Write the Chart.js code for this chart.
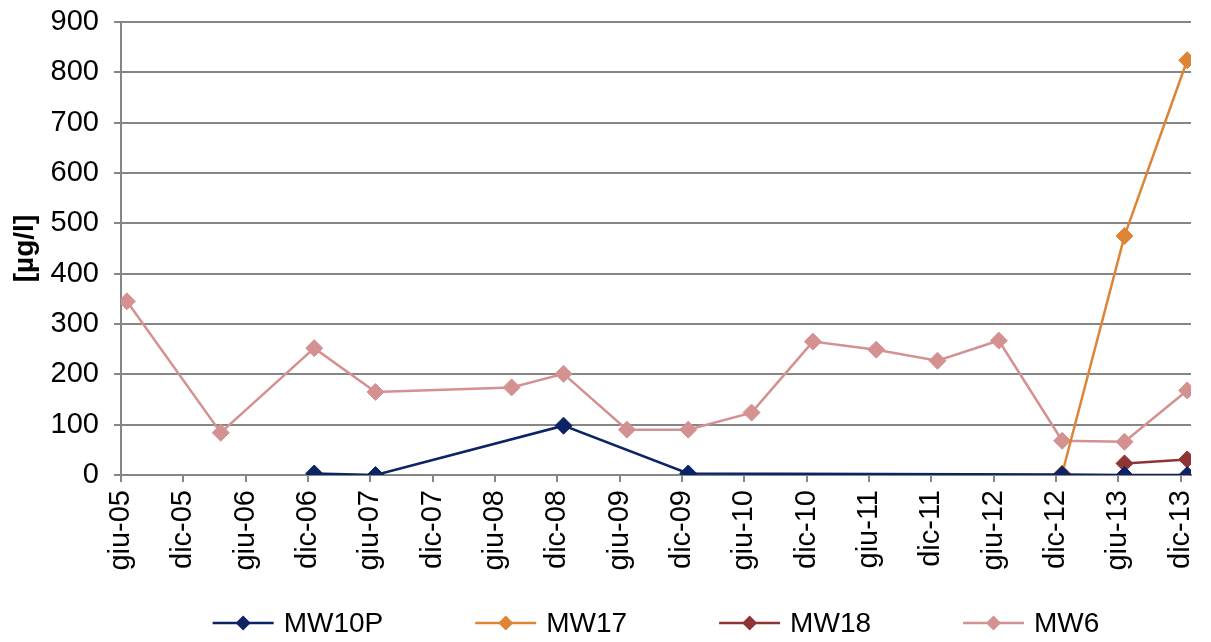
<!DOCTYPE html>
<html>
<head>
<meta charset="utf-8">
<script src="https://cdn.jsdelivr.net/npm/chart.js@4/dist/chart.umd.min.js"></script>
<style>
  html, body { margin: 0; padding: 0; background: #fff; }
  #wrap { width: 1211px; height: 642px; }
</style>
</head>
<body>
<div id="wrap"><canvas id="grafico"></canvas></div>
<script>
// tick labels of the date axis (every 6 months)
const tickLabels = ['giu-05','dic-05','giu-06','dic-06','giu-07','dic-07','giu-08','dic-08','giu-09',
                    'dic-09','giu-10','dic-10','giu-11','dic-11','giu-12','dic-12','giu-13','dic-13'];
const tickDates = ['2005-06-01','2005-12-01','2006-06-01','2006-12-01','2007-06-01','2007-12-01',
                   '2008-06-01','2008-12-01','2009-06-01','2009-12-01','2010-06-01','2010-12-01',
                   '2011-06-01','2011-12-01','2012-06-01','2012-12-01','2013-06-01','2013-12-01'];

// sampling dates and values [µg/l]
const mw10pDates = ['2006-12-19','2007-06-16','2008-12-19','2009-12-19','2012-12-19','2013-06-19','2013-12-20'];
const mw10p = [3, 0, 98, 3, 1, 0, 0];

const mw17Dates = ['2012-12-19','2013-06-19','2013-12-20'];
const mw17 = [3, 475, 824];

const mw18Dates = ['2013-06-19','2013-12-20'];
const mw18 = [23, 31];

const mw6Dates = ['2005-06-18','2006-03-19','2006-12-19','2007-06-16','2008-07-19','2008-12-19',
                  '2009-06-22','2009-12-19','2010-06-22','2010-12-19','2011-06-22','2011-12-19',
                  '2012-06-16','2012-12-19','2013-06-19','2013-12-20'];
const mw6 = [345, 84, 252, 165, 174, 201, 90, 90, 124, 265, 249, 227, 267, 68, 66, 168];

// months since 1 June 2005
const toMonths = d => {
    const [y, m, g] = d.split('-').map(Number);
    return (y - 2005) * 12 + (m - 6) + (g - 1) / 30;
};
const punti = (dates, vals) => dates.map((d, i) => ({ x: toMonths(d), y: vals[i] }));
const tickVals = tickDates.map(toMonths);

const FONT = '"Liberation Sans", Arial, sans-serif';
const grigio = '#868686';

const serie = (label, dates, vals, col) => ({
    label: label,
    data: punti(dates, vals),
    borderColor: col,
    backgroundColor: col,
    borderWidth: 2.5,
    pointStyle: 'rectRot',
    pointRadius: 8.5,
    pointHoverRadius: 8.5,
    pointBorderWidth: 1,
    tension: 0
});

// legend drawn as line + diamond, like the original
const legenda = {
    id: 'legenda',
    afterDraw(chart) {
        const ctx = chart.ctx;
        ctx.save();
        ctx.font = '28px ' + FONT;
        const lineW = 61, gapTxt = 10, gap = 92;
        const items = chart.data.datasets.map(ds => ({ ds, w: lineW + gapTxt + ctx.measureText(ds.label).width }));
        const total = items.reduce((a, b) => a + b.w, 0) + gap * (items.length - 1);
        let x = (chart.chartArea.left + chart.chartArea.right) / 2 - total / 2;
        const y = 623;
        items.forEach(it => {
            const c = it.ds.borderColor;
            ctx.strokeStyle = c;
            ctx.lineWidth = 2.5;
            ctx.beginPath();
            ctx.moveTo(x, y);
            ctx.lineTo(x + lineW, y);
            ctx.stroke();
            ctx.fillStyle = c;
            const cx = x + lineW / 2, r = 7.5;
            ctx.beginPath();
            ctx.moveTo(cx, y - r);
            ctx.lineTo(cx + r, y);
            ctx.lineTo(cx, y + r);
            ctx.lineTo(cx - r, y);
            ctx.closePath();
            ctx.fill();
            ctx.fillStyle = '#000';
            ctx.textBaseline = 'middle';
            ctx.textAlign = 'left';
            ctx.fillText(it.ds.label, x + lineW + gapTxt, y + 1);
            x += it.w + gap;
        });
        ctx.restore();
    }
};

const ctx = document.getElementById('grafico').getContext('2d');
new Chart(ctx, {
    type: 'line',
    data: {
        datasets: [
            serie('MW10P', mw10pDates, mw10p, '#0c2466'),
            serie('MW17', mw17Dates, mw17, '#dd8437'),
            serie('MW18', mw18Dates, mw18, '#8f3434'),
            serie('MW6', mw6Dates, mw6, '#d49191')
        ]
    },
    options: {
        responsive: true,
        maintainAspectRatio: false,
        animation: false,
        layout: { padding: { top: 22, right: 20, bottom: 47, left: 0 } },
        plugins: {
            legend: { display: false },
            tooltip: { enabled: false }
        },
        scales: {
            x: {
                type: 'linear',
                min: 0,
                max: 103,
                afterBuildTicks: s => { s.ticks = tickVals.map(v => ({ value: v })); },
                afterFit: s => { s.height = 120; s.paddingLeft = 0; s.paddingRight = 0; },
                ticks: {
                    autoSkip: false,
                    maxRotation: 90,
                    minRotation: 90,
                    padding: 8,
                    color: '#000',
                    font: { family: FONT, size: 29 },
                    callback: (v, i) => tickLabels[i]
                },
                grid: { drawOnChartArea: false, drawTicks: true, tickLength: 7, color: grigio, lineWidth: 2 },
                border: { display: true, color: grigio, width: 2 }
            },
            y: {
                min: 0,
                max: 900,
                afterFit: s => { s.width = 121; s.paddingTop = 0; s.paddingBottom = 0; },
                ticks: {
                    stepSize: 100,
                    padding: 15,
                    color: '#000',
                    font: { family: FONT, size: 29 }
                },
                title: {
                    display: true,
                    text: '[µg/l]',
                    color: '#000',
                    font: { family: FONT, size: 28, weight: 'bold' },
                    padding: { top: 8, bottom: 0 }
                },
                grid: { color: grigio, lineWidth: 2, tickLength: 7 },
                border: { display: true, color: grigio, width: 2 }
            }
        }
    },
    plugins: [legenda]
});
</script>
</body>
</html>
